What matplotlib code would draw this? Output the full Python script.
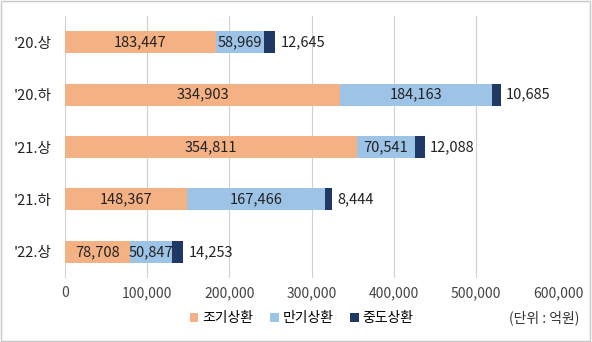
import matplotlib.pyplot as plt
import numpy as np

plt.rcParams['font.family'] = ['Noto Sans CJK KR', 'DejaVu Sans']

periods = ["'20.상", "'20.하", "'21.상", "'21.하", "'22.상"]
early = [183447, 334903, 354811, 148367, 78708]
maturity = [58969, 184163, 70541, 167466, 50847]
midway = [12645, 10685, 12088, 8444, 14253]
series_names = ['조기상환', '만기상환', '중도상환']
colors = ['#F4B183', '#9DC3E6', '#203864']

fig = plt.figure(figsize=(5.92, 3.42), dpi=100)
ax = fig.add_axes([0.110, 0.187, 0.833, 0.766])

y = np.arange(len(periods))
h = 0.42
b1 = ax.barh(y, early, height=h, color=colors[0], label=series_names[0])
b2 = ax.barh(y, maturity, left=early, height=h, color=colors[1], label=series_names[1])
left3 = np.array(early) + np.array(maturity)
b3 = ax.barh(y, midway, left=left3, height=h, color=colors[2], label=series_names[2])

ax.bar_label(b1, labels=[f'{v:,}' for v in early], label_type='center', fontsize=10.5, color='#222222')
ax.bar_label(b2, labels=[f'{v:,}' for v in maturity], label_type='center', fontsize=10.5, color='#222222')
ax.bar_label(b3, labels=[f'{v:,}' for v in midway], label_type='edge', padding=4, fontsize=10.5, color='#222222')

ax.set_xlim(0, 600000)
ax.set_ylim(len(periods) - 0.5, -0.5)
ax.set_xticks(np.arange(0, 600001, 100000))
ax.set_xticklabels([f'{v:,}' for v in range(0, 600001, 100000)], fontsize=10, color='#444444')
ax.set_yticks(y)
ax.set_yticklabels(periods, fontsize=10.5, color='#222222')
ax.tick_params(axis='both', length=0)
ax.tick_params(axis='x', pad=6)
ax.tick_params(axis='y', pad=10)
ax.grid(axis='x', color='#d0d0d0', linewidth=0.8)
ax.set_axisbelow(True)
for s in ax.spines.values():
    s.set_visible(False)

fig.legend(loc='center', bbox_to_anchor=(0.51, 0.07), ncol=3, frameon=False,
           fontsize=10, handlelength=0.6, handleheight=0.6, handletextpad=0.3,
           columnspacing=1.2)
fig.text(0.92, 0.07, '(단위 : 억원)', fontsize=10, ha='center', va='center', color='#333333')

fig.add_artist(plt.Rectangle((0.002, 0.003), 0.995, 0.993, transform=fig.transFigure,
                             fill=False, edgecolor='#c8c8c8', linewidth=1))

fig.savefig('out.png', dpi=100)
